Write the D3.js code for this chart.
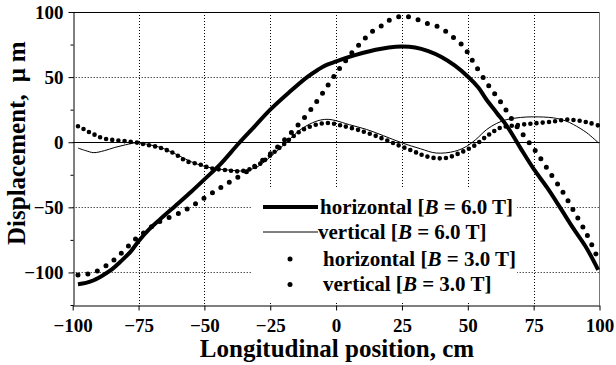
<!DOCTYPE html>
<html><head><meta charset="utf-8">
<script src="https://cdn.jsdelivr.net/npm/d3@7"></script>
<style>
body{margin:0;background:#fff}
svg{display:block}
text{font-family:"Liberation Serif","Times New Roman",serif;font-weight:bold;fill:#000}
</style>
</head><body>
<svg id="c" width="616" height="365"></svg>
<script>
// ---- data ----
const xTicks = [-100, -75, -50, -25, 0, 25, 50, 75, 100];
const yTicks = [-100, -50, 0, 50, 100];
const yMinorTicks = [-125, -75, -25, 25, 75];
const gridY = [-100, -50, 50];

const legendNames = ["horizontal", "vertical", "horizontal", "vertical"];
const legendFields = ["6.0", "6.0", "3.0", "3.0"];

const horizontal6T = [[-98,-109],[-95,-108],[-92,-106],[-88,-101.5],[-85,-97.5],[-82,-92],[-78,-84],[-75,-76],[-71,-67],[-67,-59.5],[-60,-47],[-55,-38],[-50,-28.5],[-44,-17],[-37,-1],[-31,12],[-25,25],[-18,38],[-11,50],[-7,55.5],[-4,59],[0,62],[5,65.5],[10,68.5],[15,71],[20,72.8],[25,73.5],[30,72.8],[35,70],[40,65.5],[45,59],[50,50.5],[54,42],[57,33],[61,22.5],[65,12],[70,-4.5],[75,-20.5],[80,-34.5],[85,-50],[90,-66],[95,-81],[99.5,-98]];

const vertical6T = [[-98,-4.5],[-95,-6.5],[-92,-8],[-88,-6.5],[-84,-4],[-80,-2],[-76,-0.5],[-72,-1.5],[-66,-4.5],[-60,-10],[-55,-15],[-50,-18.5],[-45,-20.5],[-40,-21.5],[-35,-22],[-30,-19],[-26,-13],[-22,-6],[-18,1.5],[-14,9],[-10,14],[-6,17],[-3,17.6],[0,16.5],[5,13.5],[11.6,9.8],[18,5],[25,-0.5],[32,-5],[38,-8.3],[45,-7],[49.6,-3.1],[53,2],[57.2,9.8],[61,14.5],[64.8,17.4],[70,19],[74.9,19.5],[82.5,18.7],[87,16.5],[90.1,13.6],[95.2,7.2],[99.6,-0.5]];

const horizontal3T = [[-98,-102],[-95,-101.5],[-92,-100],[-89,-97],[-86,-93],[-83,-88],[-79.5,-81],[-76,-74],[-72,-68],[-68,-62],[-63,-57.5],[-58,-53],[-54,-48],[-49,-41.5],[-44,-35],[-40,-30],[-35,-24],[-30,-17],[-25,-9],[-20,1],[-15,12],[-10,24],[-5,38],[0,53],[3,61],[6,68.7],[10,77.6],[13,84],[17,89],[20.5,94],[25,96.8],[29,95.5],[34,91.7],[39.5,88],[44,81.4],[48.3,73.7],[51.5,63.5],[57.2,45.6],[62.3,31.5],[67.3,16],[72.4,2],[76.2,-8],[81.2,-23.5],[86.3,-38.9],[90,-52],[95,-70],[99,-87.5]];

const vertical3T = [[-98,12.3],[-96,10.3],[-93.7,7.7],[-91.8,5.9],[-90,4.1],[-88,2.8],[-86,2.1],[-84,1.5],[-82,1.2],[-80,0.8],[-78,0.3],[-75,-0.5],[-73,-1.5],[-71,-2.3],[-69,-3.1],[-67,-4.1],[-65,-5.6],[-63,-7],[-60,-10.5],[-56.7,-14.6],[-51.7,-17.1],[-48,-19.7],[-41.5,-21.5],[-36.5,-22.3],[-31.4,-19.7],[-27.6,-14.6],[-23.8,-8.1],[-20,-1.8],[-16.2,4.6],[-12.4,9.8],[-7.3,13.6],[-3,14.8],[1.5,13],[7.8,9.8],[15.4,4.6],[23,-1.8],[29.3,-6.9],[33,-10],[36.9,-12],[42,-12],[47.1,-8.1],[52.1,-3.1],[57.2,4.6],[62.3,11.1],[67.3,12.8],[74.9,14.4],[82.5,15.9],[87.6,17.4],[92.6,16.4],[96,15],[99.6,12.8]];

// ---- chart ----
const svg = d3.select("#c");
const x = d3.scaleLinear().domain([-100, 100]).range([72.7, 599.5]);
const y = d3.scaleLinear().domain([-125, 100]).range([305, 12]);

// grid
const grid = svg.append("g").attr("stroke", "#000").attr("stroke-width", 1).attr("stroke-dasharray", "1,2");
grid.selectAll("line.gx").data(xTicks.filter(v => v > -100 && v < 100)).join("line")
  .attr("x1", d => Math.round(x(d)) + 0.5).attr("x2", d => Math.round(x(d)) + 0.5)
  .attr("y1", y(100)).attr("y2", y(-125));
grid.selectAll("line.gy").data(gridY).join("line")
  .attr("y1", d => Math.round(y(d)) + 0.5).attr("y2", d => Math.round(y(d)) + 0.5)
  .attr("x1", x(-100)).attr("x2", x(100));

// frame top/right
svg.append("line").attr("x1", x(-100)).attr("x2", x(100)).attr("y1", Math.round(y(100)) + 0.5).attr("y2", Math.round(y(100)) + 0.5).attr("stroke", "#000");
svg.append("line").attr("x1", Math.round(x(100)) - 0.5).attr("x2", Math.round(x(100)) - 0.5).attr("y1", y(100)).attr("y2", y(-125)).attr("stroke", "#777");

// zero line
svg.append("line").attr("x1", x(-100)).attr("x2", x(100)).attr("y1", Math.round(y(0)) + 0.5).attr("y2", Math.round(y(0)) + 0.5).attr("stroke", "#000");

// legend background
const lg = svg.append("g");
lg.append("rect").attr("x", 252).attr("y", 188).attr("width", 265).attr("height", 113).attr("fill", "#fff");

// axes
const yAxis = svg.append("g").attr("transform", `translate(${Math.round(x(-100)) + 0.5},0)`)
  .call(d3.axisLeft(y).tickValues(yTicks).tickSize(5).tickSizeOuter(0).tickPadding(5).tickFormat(d3.format("d")));
svg.append("g").attr("transform", `translate(${Math.round(x(-100)) + 0.5},0)`)
  .call(d3.axisLeft(y).tickValues(yMinorTicks).tickSize(3).tickSizeOuter(0).tickFormat(""))
  .select(".domain").remove();
const xAxis = svg.append("g").attr("transform", `translate(0,${Math.round(y(-125)) + 0.5})`)
  .call(d3.axisBottom(x).tickValues(xTicks).tickSize(5).tickSizeOuter(0).tickPadding(8.5).tickFormat(d3.format("d")));
svg.selectAll(".tick text").attr("font-size", 19).attr("font-family", '"Liberation Serif","Times New Roman",serif').attr("font-weight", "bold");
svg.selectAll(".tick line, .domain").attr("stroke", "#000");

// titles
svg.append("text").attr("x", 337).attr("y", 357).attr("text-anchor", "middle").attr("font-size", 25)
  .text("Longitudinal position, cm");
const yt = svg.append("text").attr("transform", "translate(25,245) rotate(-90)").attr("font-size", 25);
yt.append("tspan").text("Displacement,");
yt.append("tspan").attr("dx", 12).text("μ");
yt.append("tspan").attr("dx", 6).text("m");

// series
const line = d3.line().x(d => x(d[0])).y(d => y(d[1])).curve(d3.curveCatmullRom.alpha(0.5));
svg.append("path").attr("d", line(vertical6T)).attr("fill", "none").attr("stroke", "#000").attr("stroke-width", 1);
svg.append("path").attr("d", line(vertical3T)).attr("fill", "none").attr("stroke", "#000").attr("stroke-width", 4.6)
  .attr("stroke-linecap", "round").attr("stroke-dasharray", "0 6.2");
svg.append("path").attr("d", line(horizontal3T)).attr("fill", "none").attr("stroke", "#000").attr("stroke-width", 5)
  .attr("stroke-linecap", "round").attr("stroke-dasharray", "0 10");
svg.append("path").attr("d", line(horizontal6T)).attr("fill", "none").attr("stroke", "#000").attr("stroke-width", 4);

// legend
const rows = [207, 232, 259, 284.5];
const textX = [320, 318, 323, 323];
legendNames.forEach((n, i) => {
  const yy = rows[i];
  if (i < 2) {
    lg.append("line").attr("x1", 263).attr("x2", 318).attr("y1", yy).attr("y2", yy)
      .attr("stroke", "#000").attr("stroke-width", i === 0 ? 4 : 1);
  } else {
    lg.append("circle").attr("cx", 290).attr("cy", yy).attr("r", 2.5).attr("fill", "#000");
  }
  const t = lg.append("text").attr("x", textX[i]).attr("y", yy + 6.5).attr("font-size", 21);
  t.append("tspan").text(n + " [");
  t.append("tspan").attr("font-style", "italic").text("B");
  t.append("tspan").text(" = " + legendFields[i] + " T]");
});
</script>
</body></html>
